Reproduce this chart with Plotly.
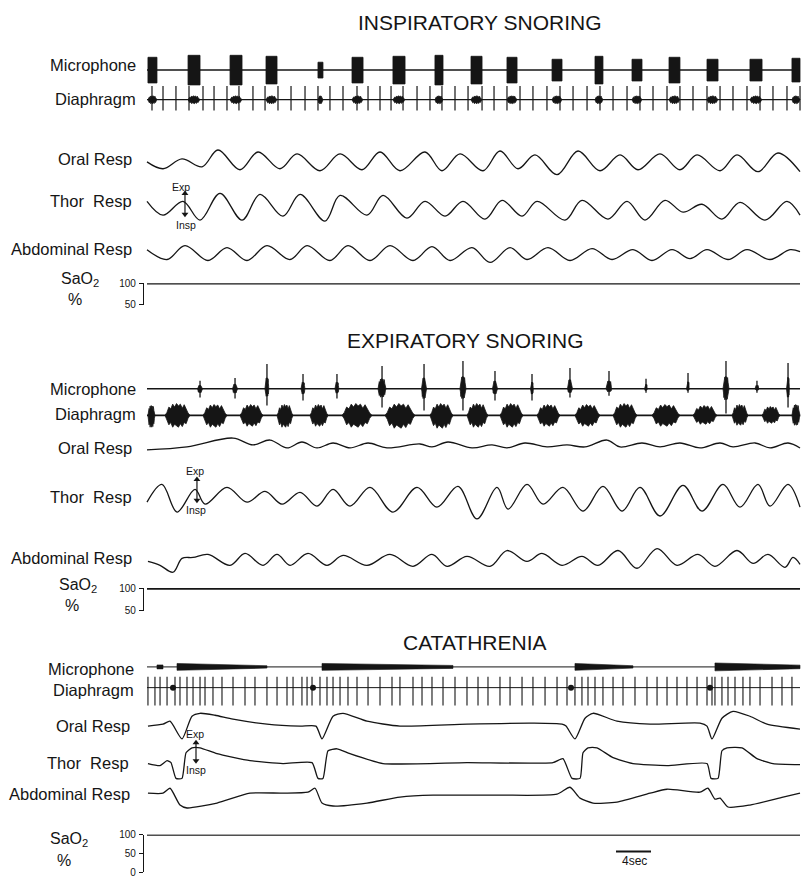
import plotly.graph_objects as go

W, H = 801, 885
PX_PER_S = 8.75          # 4-sec scale bar spans 35 px
T0_PX = 147              # left edge of the recordings

# ---------------- DATA (time in s, signal in arbitrary units) ----------------
# Panel 1 : inspiratory snoring
p1_mic_on = [0.11, 4.69, 9.49, 13.60, 19.54, 23.43, 28.11, 32.91, 37.03, 41.14, 46.29, 51.20, 55.43, 59.66, 64.00, 68.91, 73.71]
p1_mic_off = [1.14, 6.06, 10.86, 14.86, 20.11, 24.69, 29.49, 33.83, 38.29, 42.29, 47.43, 52.11, 56.57, 60.91, 65.26, 70.29, 74.63]
p1_mic_amp = [13, 15, 15, 14, 8, 13, 14, 15, 14, 13, 11, 14, 11, 13, 11, 11, 12]
p1_dia_spikes = [0.57, 1.83, 3.31, 4.80, 6.40, 7.66, 9.14, 10.51, 12.11, 13.49, 14.97, 16.46, 18.06, 19.54, 20.91,
                 22.40, 24.00, 25.26, 26.63, 27.89, 29.26, 30.86, 32.34, 33.71, 35.20, 36.69, 38.29, 39.66, 41.14,
                 42.63, 44.11, 45.71, 47.20, 48.69, 50.29, 51.77, 53.26, 54.86, 56.34, 57.83, 59.43, 60.91, 62.40,
                 64.00, 65.49, 66.97, 68.57, 70.06, 71.54, 73.14, 74.63]
p1_oral_t = [0, 1.83, 4.0, 6.29, 8.11, 10.63, 12.69, 15.2, 17.14, 19.77, 22.06, 24.57, 26.63, 28.91, 31.77, 33.71,
             35.77, 38.4, 40.34, 42.4, 44.34, 46.86, 49.26, 51.77, 54.06, 56.11, 58.63, 60.91, 62.86, 65.49, 67.43,
             69.83, 72.11, 74.63]
p1_oral_v = [0, -7, 3, -5, 12, -8, 10, -7, 8, -9, 8, -8, 10, -9, 10, -9, 8, -9, 11, -7, 7, -13, 11, -9, 7, -8, 8, -8,
             7, -9, 7, -10, 9, -10]
p1_thor_t = [0, 1.83, 4.11, 6.06, 8.34, 10.86, 12.91, 15.54, 17.49, 20.34, 22.06, 25.14, 26.97, 29.71, 31.77, 34.06,
             36.11, 38.63, 40.57, 42.86, 44.57, 47.77, 49.71, 52.69, 54.86, 56.91, 59.2, 61.26, 63.43, 65.71, 67.77,
             70.63, 73.14, 74.63]
p1_thor_v = [6, -8, 6, -13, 14, -13, 13, -9, 13, -14, 12, -8, 12, -11, 6, -9, 6, -12, 7, -9, 6, -13, 7, -12, 6, -13,
             7, -5, 3, -12, 5, -13, 6, -8]
p1_abd_t = [0, 2.29, 4.34, 6.97, 9.14, 11.43, 13.71, 16.34, 18.29, 20.91, 22.97, 25.49, 27.77, 30.4, 32.57, 34.63,
            37.14, 39.2, 41.49, 43.43, 45.83, 48.34, 50.86, 53.14, 55.54, 57.71, 60.0, 62.06, 64.0, 66.4, 68.57, 71.2,
            73.49, 74.63]
p1_abd_v = [4, -6, 8, -7, 6, -7, 8, -6, 8, -7, 8, -7, 8, -7, 7, -7, 6, -9, 6, -6, 6, -7, 5, -6, 4, -7, 4, -5, 4, -6,
            4, -6, 4, 2]
p1_sao2_t = [0, 74.63]
p1_sao2 = [99, 99]

# Panel 2 : expiratory snoring
p2_mic_t = [6.06, 10.06, 13.71, 17.83, 21.71, 26.86, 31.66, 36.11, 39.77, 44.0, 48.34, 52.8, 57.03, 61.83, 66.17, 69.71, 73.26]
p2_mic_up = [8, 11, 25, 15, 15, 23, 25, 28, 18, 15, 21, 18, 10, 16, 28, 8, 26]
p2_mic_down = [9, 10, 17, 12, 10, 19, 22, 22, 12, 12, 9, 7, 4, 4, 25, 4, 19]
p2_mic_dur = [0.57, 0.57, 0.46, 0.46, 0.46, 0.91, 0.57, 0.69, 0.57, 0.34, 0.57, 0.69, 0.34, 0.34, 0.69, 0.46, 0.34]
p2_dia_on = [0.11, 2.06, 6.4, 10.63, 14.86, 18.63, 22.29, 27.2, 32.34, 36.57, 40.34, 44.57, 48.91, 53.26, 57.71, 62.4, 66.86, 70.29, 73.71]
p2_dia_off = [0.91, 4.91, 9.14, 13.26, 16.69, 20.69, 25.71, 30.63, 34.97, 38.97, 42.97, 47.2, 51.77, 56.0, 60.91, 65.14, 68.69, 72.34, 74.63]
p2_dia_up = [10, 12, 11, 11, 11, 11, 12, 12, 12, 12, 12, 11, 11, 12, 11, 10, 11, 9, 11]
p2_dia_down = [12, 12, 12, 11, 12, 11, 12, 13, 13, 12, 12, 11, 11, 12, 11, 9, 10, 8, 10]
p2_oral_t = [0, 4.57, 9.83, 12.11, 14.06, 16.0, 17.71, 19.43, 21.26, 23.2, 25.26, 27.43, 31.2, 32.57, 34.4, 37.14,
             39.43, 41.14, 43.2, 45.71, 48.0, 50.06, 52.57, 54.06, 56.57, 58.63, 60.91, 63.2, 65.49, 66.97, 69.49,
             71.2, 73.26, 74.63]
p2_oral_v = [-4, -1, 8, 1, 6, -2, 4, -2, 3, -2, 3, -2, 2, -1, 4, -2, 1, -2, 3, -1, 1, -1, 6, -1, 3, -1, 3, -2, 3, -1,
             3, -2, 3, -2]
p2_thor_t = [0, 1.71, 3.43, 5.49, 6.63, 9.14, 11.43, 13.49, 15.43, 17.49, 19.43, 21.26, 23.2, 25.49, 28.11, 30.86,
             33.14, 35.54, 37.71, 40.0, 41.26, 43.43, 45.26, 47.54, 49.83, 52.11, 54.29, 56.34, 58.63, 61.26, 63.43,
             65.83, 67.77, 69.83, 71.2, 73.26, 74.63]
p2_thor_v = [-3, 15, -13, 10, -5, 12, -3, 8, -5, 7, -7, 10, -7, 12, -13, 12, -8, 13, -20, 12, -10, 15, -5, 12, -12,
             13, -12, 12, -17, 14, -12, 15, -8, 15, -7, 15, -8]
p2_abd_t = [0.11, 1.49, 2.97, 4.0, 5.26, 6.97, 9.49, 11.2, 13.26, 14.86, 16.34, 18.4, 20.57, 22.4, 25.14, 27.77,
            30.4, 32.57, 34.29, 36.57, 39.2, 41.14, 43.43, 45.14, 47.43, 49.71, 51.54, 53.83, 56.0, 58.29, 60.57,
            62.97, 64.91, 67.43, 69.26, 70.97, 72.91, 73.83, 74.63]
p2_abd_v = [-1, -5, -12, 2, 3, 6, -5, 7, -5, 6, -5, 7, -5, 5, -5, 6, -6, 6, -6, 4, -6, 10, -1, 7, -5, 4, -5, 10, -8,
            12, -5, 6, -6, 10, -3, 6, -7, 3, -4]
p2_sao2_t = [0, 74.63]
p2_sao2 = [98, 98]

# Panel 3 : catathrenia
p3_mic_on = [1.14, 3.43, 20.0, 48.91, 64.91]
p3_mic_off = [1.83, 13.71, 34.97, 55.54, 74.63]
p3_mic_amp_start = [2, 3.5, 3.5, 3.5, 4]
p3_mic_amp_end = [2, 1.2, 1.5, 1.2, 1.8]
p3_dia_spikes = [0.11, 0.91, 1.49, 2.29, 3.2, 3.77, 4.57, 5.26, 6.06, 6.63, 7.54, 8.57, 9.83, 11.2, 12.34, 13.71,
                 14.86, 16.0, 16.69, 17.71, 18.29, 18.86, 19.77, 20.57, 21.26, 22.06, 22.97, 24.0, 25.26, 26.63, 28.0,
                 28.91, 30.4, 31.43, 32.57, 33.83, 35.2, 36.57, 37.83, 38.97, 40.34, 41.49, 42.86, 44.11, 45.49,
                 46.86, 48.0, 48.91, 49.71, 50.4, 51.2, 52.11, 53.26, 54.4, 55.77, 57.14, 58.29, 59.43, 60.57, 61.71,
                 62.86, 64.0, 64.57, 64.91, 65.71, 66.4, 67.2, 68.11, 68.91, 70.06, 71.43, 72.57, 73.71]
p3_dia_blobs = [2.97, 18.97, 48.46, 64.34]
p3_oral_t = [0.11, 1.83, 2.63, 4.0, 5.14, 6.06, 7.77, 9.83, 13.71, 17.49, 19.31, 20.0, 21.26, 22.4, 25.14, 28.91,
             36.57, 44.11, 47.43, 47.89, 48.91, 50.06, 50.97, 53.71, 57.49, 63.2, 64.0, 64.57, 65.71, 66.97, 68.91,
             70.86, 74.63]
p3_oral_v = [-2, 0, 3, -15, 8, 11, 9, 5, 0, -2, -2, -15, 8, 11, 3, -2, 0, 1, 0, -2, -15, 6, 11, 3, 0, 1, -2, -15, 6,
             13, 8, 0, -5]
p3_thor_t = [0.11, 1.49, 2.29, 2.74, 3.31, 4.0, 4.46, 5.14, 6.06, 8.0, 11.77, 15.54, 18.86, 19.54, 20.11, 20.69,
             21.71, 23.2, 26.97, 36.57, 46.4, 47.54, 48.57, 49.49, 49.83, 50.4, 51.43, 53.26, 55.54, 59.43, 64.0,
             64.46, 65.26, 65.71, 66.29, 68.0, 69.71, 71.54, 74.63]
p3_thor_v = [0, -2, 3, 1, -15, -15, 11, 16, 16, 10, 3, 0, 1, -15, -15, 13, 15, 10, 0, 1, 1, 5, -15, -15, 11, 16, 16,
             6, 0, -2, 0, -15, -15, 13, 16, 16, 5, 0, -1]
p3_abd_t = [0.11, 1.83, 2.63, 3.77, 4.57, 8.0, 11.77, 15.54, 18.4, 19.2, 20.0, 21.26, 25.14, 28.91, 32.69, 40.34,
            46.86, 48.34, 49.49, 50.97, 53.71, 57.49, 59.43, 63.2, 64.11, 64.91, 65.49, 66.4, 68.91, 72.69, 74.63]
p3_abd_v = [2, 2, 7, -10, -13, -8, 2, 2, 3, 7, -8, -11, -8, -2, 0, 0, 1, 8, -3, -8, -7, 2, 6, 3, 7, -4, -3, -12,
            -10, -2, 2]
p3_sao2_t = [0, 74.63]
p3_sao2 = [99, 99]

scale_bar_start = 53.6
scale_bar_len = 4

# ---------------- LAYOUT CONSTANTS (pixel rows of each track) ----------------
BASE = {
    'p1_mic': 65, 'p1_dia': 95, 'p1_oral': 158, 'p1_thor': 204, 'p1_abd': 251,
    'p2_mic': 388, 'p2_dia': 415, 'p2_oral': 446, 'p2_thor': 500, 'p2_abd': 562,
    'p3_mic': 670, 'p3_dia': 691, 'p3_oral': 728, 'p3_thor': 768, 'p3_abd': 800,
}
INK = '#151515'
FONT = 'Liberation Sans, Arial, Helvetica, sans-serif'
T_END = p1_oral_t[-1]
# jagged envelope used to draw an EMG burst (relative amplitude along the burst)
EMG_TOP = [0.25, 0.7, 0.55, 0.95, 0.7, 1.0, 0.8, 0.95, 0.6, 0.9, 0.5, 0.2]
EMG_BOT = [0.3, 0.8, 0.6, 1.0, 0.75, 0.9, 1.0, 0.7, 0.95, 0.6, 0.7, 0.25]

fig = go.Figure()


def tr(**kw):
    kw.setdefault('hoverinfo', 'skip')
    kw.setdefault('showlegend', False)
    fig.add_trace(go.Scatter(**kw))


def wave(t, v, base, smooth=1.0, width=1.3):
    tr(x=t, y=[base - a for a in v], mode='lines',
       line=dict(color=INK, width=width, shape='spline', smoothing=smooth))


def baseline(base, width=1.2):
    tr(x=[0, T_END], y=[base, base], mode='lines', line=dict(color=INK, width=width))


def blocks(on, off, up, down, base):
    xs, ys = [], []
    for a, b, u, d in zip(on, off, up, down):
        xs += [a, a, b, b, a, None]
        ys += [base - u, base + d, base + d, base - u, base - u, None]
    tr(x=xs, y=ys, mode='lines', fill='toself', fillcolor=INK, line=dict(color=INK, width=0.8))


def emg(on, off, up, down, base):
    xs, ys = [], []
    n = len(EMG_TOP)
    for a, b, u, d in zip(on, off, up, down):
        step = (b - a) / (n + 1)
        top_x = [a + step * (i + 1) for i in range(n)]
        xs += [a] + top_x + [b] + top_x[::-1] + [a, None]
        ys += ([base] + [base - u * f for f in EMG_TOP] + [base] +
               [base + d * f for f in EMG_BOT[::-1]] + [base, None])
    tr(x=xs, y=ys, mode='lines', fill='toself', fillcolor=INK, line=dict(color=INK, width=0.8))


def bands(on, off, a0, a1, base):
    xs, ys = [], []
    for a, b, s, e in zip(on, off, a0, a1):
        xs += [a, b, b, a, a, None]
        ys += [base - s, base - e, base + e, base + s, base - s, None]
    tr(x=xs, y=ys, mode='lines', fill='toself', fillcolor=INK, line=dict(color=INK, width=0.6))


def spikes(times, up, down, base, width=1.2):
    xs, ys = [], []
    for t in times:
        xs += [t, t, None]
        ys += [base - up, base + down, None]
    tr(x=xs, y=ys, mode='lines', line=dict(color=INK, width=width))


# ---- Panel 1
baseline(BASE['p1_mic'], 1.5)
blocks(p1_mic_on, p1_mic_off, p1_mic_amp, p1_mic_amp, BASE['p1_mic'])
baseline(BASE['p1_dia'], 1.3)
emg(p1_mic_on, p1_mic_off, [4] * len(p1_mic_on), [4] * len(p1_mic_on), BASE['p1_dia'])
spikes(p1_dia_spikes, 14, 11, BASE['p1_dia'])
wave(p1_oral_t, p1_oral_v, BASE['p1_oral'])
wave(p1_thor_t, p1_thor_v, BASE['p1_thor'])
wave(p1_abd_t, p1_abd_v, BASE['p1_abd'])

# ---- Panel 2
baseline(BASE['p2_mic'], 1.6)
emg([t - d / 2 for t, d in zip(p2_mic_t, p2_mic_dur)], [t + d / 2 for t, d in zip(p2_mic_t, p2_mic_dur)],
    [u * 0.45 for u in p2_mic_up], [d * 0.45 for d in p2_mic_down], BASE['p2_mic'])
xs, ys = [], []
for t, u, d in zip(p2_mic_t, p2_mic_up, p2_mic_down):
    xs += [t, t, None]
    ys += [BASE['p2_mic'] - u, BASE['p2_mic'] + d, None]
tr(x=xs, y=ys, mode='lines', line=dict(color=INK, width=1.3))
baseline(BASE['p2_dia'], 1.6)
emg(p2_dia_on, p2_dia_off, p2_dia_up, p2_dia_down, BASE['p2_dia'])
wave(p2_oral_t, p2_oral_v, BASE['p2_oral'])
wave(p2_thor_t, p2_thor_v, BASE['p2_thor'])
wave(p2_abd_t, p2_abd_v, BASE['p2_abd'])

# ---- Panel 3
baseline(BASE['p3_mic'], 1.0)
bands(p3_mic_on, p3_mic_off, p3_mic_amp_start, p3_mic_amp_end, BASE['p3_mic'])
baseline(BASE['p3_dia'], 1.0)
spikes(p3_dia_spikes, 11, 18, BASE['p3_dia'], width=1.1)
tr(x=p3_dia_blobs, y=[BASE['p3_dia']] * len(p3_dia_blobs), mode='markers',
   marker=dict(color=INK, size=6))
wave(p3_oral_t, p3_oral_v, BASE['p3_oral'], smooth=0.6)
wave(p3_thor_t, p3_thor_v, BASE['p3_thor'], smooth=0.5)
wave(p3_abd_t, p3_abd_v, BASE['p3_abd'], smooth=0.6)

# ---- SaO2 (own scales)
for t, v, ax in [(p1_sao2_t, p1_sao2, 'y2'), (p2_sao2_t, p2_sao2, 'y3'), (p3_sao2_t, p3_sao2, 'y4')]:
    tr(x=t, y=v, mode='lines', yaxis=ax, line=dict(color=INK, width=1.6))


def dom(top_px, bot_px):
    return [1 - bot_px / H, 1 - top_px / H]


sao_axis = dict(anchor='free', position=143 / W, showline=True, linecolor=INK, linewidth=1.2,
                ticks='outside', ticklen=4, tickwidth=1.1, tickcolor=INK, showgrid=False, zeroline=False,
                tickfont=dict(family=FONT, size=10, color=INK), ticklabelstandoff=1)

fig.update_layout(
    width=W, height=H, margin=dict(l=0, r=0, t=0, b=0),
    paper_bgcolor='white', plot_bgcolor='white',
    xaxis=dict(range=[-T0_PX / PX_PER_S, (W - T0_PX) / PX_PER_S], visible=False, domain=[0, 1]),
    yaxis=dict(range=[H, 0], visible=False, domain=[0, 1]),
    yaxis2=dict(domain=dom(281, 303), range=[50, 100], tickvals=[50, 100], **sao_axis),
    yaxis3=dict(domain=dom(590, 613), range=[50, 100], tickvals=[50, 100], **sao_axis),
    yaxis4=dict(domain=dom(840, 878), range=[0, 100], tickvals=[0, 50, 100], **sao_axis),
)


def px(x):
    return x / W


def py(y):
    return 1 - y / H


ann = []


def text(s, x, y, size, anchor='right'):
    ann.append(dict(text=s, x=px(x), y=py(y), xref='paper', yref='paper', xanchor=anchor, yanchor='middle',
                    showarrow=False, font=dict(family=FONT, size=size, color=INK)))


# titles
text('INSPIRATORY SNORING', 480, 17, 21, 'center')
text('EXPIRATORY SNORING', 465, 339, 21, 'center')
text('CATATHRENIA', 475, 645, 21, 'center')

LBL = 16.5
for y, s, xr in [(60, 'Microphone', 138), (94, 'Diaphragm', 138), (155, 'Oral Resp', 134), (198, 'Thor  Resp', 134),
                 (246, 'Abdominal Resp', 134),
                 (388, 'Microphone', 138), (414, 'Diaphragm', 138), (448, 'Oral Resp', 134), (498, 'Thor  Resp', 134),
                 (560, 'Abdominal Resp', 134),
                 (672, 'Microphone', 136), (693, 'Diaphragm', 136), (730, 'Oral Resp', 132), (767, 'Thor  Resp', 131),
                 (799, 'Abdominal Resp', 132)]:
    text(s, xr, y, LBL)

for (xs_, ys_), (xp, yp) in [((80, 277), (75, 298)), ((78, 587), (72, 608)), ((69, 845), (64, 866))]:
    text('SaO<sub>2</sub>', xs_, ys_, 16, 'center')
    text('%', xp, yp, 16, 'center')

# Exp / Insp markers (double-headed arrows)
arr_x, arr_top, arr_bot = [], [], []
for (ex, ey), (ix, iy), (ax_t, y_top, y_bot) in [
        ((181, 183), (186, 222), (4.34, 188, 213)),
        ((195, 471), (196, 511), (5.71, 478, 503)),
        ((195, 738), (196, 774), (5.6, 745, 767))]:
    text('Exp', ex, ey, 10.5, 'center')
    text('Insp', ix, iy, 10.5, 'center')
    fig.add_shape(type='line', x0=ax_t, x1=ax_t, y0=y_top + 2, y1=y_bot - 2, xref='x', yref='y',
                  line=dict(color=INK, width=1.2))
    arr_x.append(ax_t)
    arr_top.append(y_top + 2)
    arr_bot.append(y_bot - 2)
tr(x=arr_x, y=arr_top, mode='markers', marker=dict(symbol='triangle-up', size=6, color=INK))
tr(x=arr_x, y=arr_bot, mode='markers', marker=dict(symbol='triangle-down', size=6, color=INK))

# 4 sec scale bar
fig.add_shape(type='line', x0=scale_bar_start, x1=scale_bar_start + scale_bar_len, y0=857, y1=857,
              xref='x', yref='y', line=dict(color=INK, width=2))
text('4sec', 634, 867, 12, 'center')

fig.update_layout(annotations=ann)
fig.write_html('out.html')
